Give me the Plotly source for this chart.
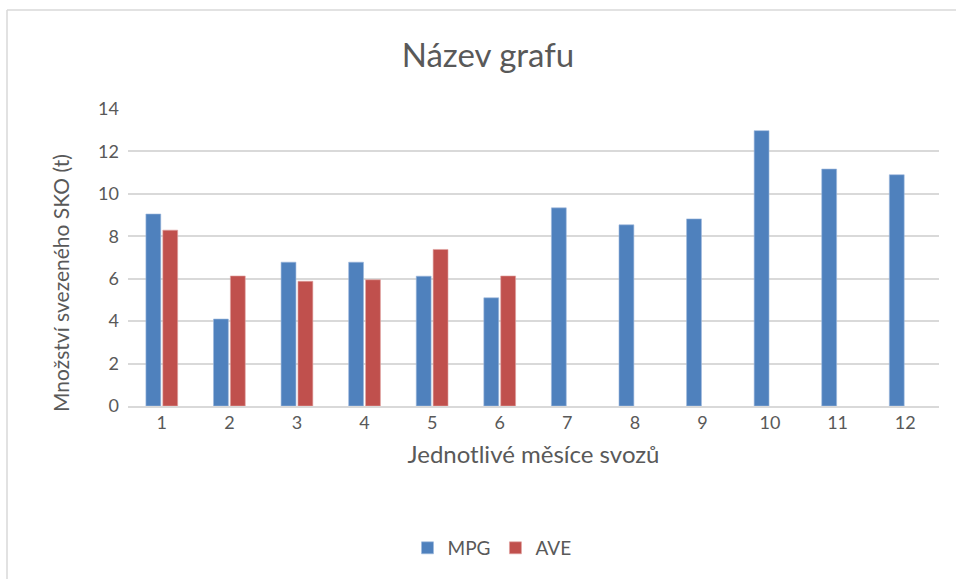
import plotly.graph_objects as go

months = ["1", "2", "3", "4", "5", "6", "7", "8", "9", "10", "11", "12"]
mpg = [9.05, 4.1, 6.78, 6.78, 6.12, 5.1, 9.34, 8.54, 8.82, 12.98, 11.17, 10.9]
ave = [8.29, 6.13, 5.88, 5.95, 7.38, 6.13, None, None, None, None, None, None]
y_ticks = [0, 2, 4, 6, 8, 10, 12, 14]

W, H = 956, 579
L, R, T, B = 128, 17, 109, 173
pw, ph = W - L - R, H - T - B

font = "Lato, 'Open Sans', sans-serif"
gray = "#595959"

fig = go.Figure()
fig.add_trace(go.Bar(x=months, y=mpg, name="MPG", marker=dict(color="#4F81BD", line=dict(color="#9DB8DD", width=0.6))))
fig.add_trace(go.Bar(x=months, y=ave, name="AVE", marker=dict(color="#C0504D", line=dict(color="#E0A3A1", width=0.6))))

def px(x):
    return (x - L) / pw

def py(y):
    return (H - B - y) / ph

# chart frame (left and top edges visible in the reference)
fig.add_shape(type="line", xref="paper", yref="paper", x0=px(7), x1=px(7), y0=py(585), y1=py(10),
              line=dict(color="#D9D9D9", width=1.5))
fig.add_shape(type="line", xref="paper", yref="paper", x0=px(7), x1=px(960), y0=py(10), y1=py(10),
              line=dict(color="#D9D9D9", width=1.5))

fig.add_annotation(text="Množství svezeného SKO (t)", xref="paper", yref="paper",
                   x=px(60), y=py(283), textangle=-90, showarrow=False,
                   xanchor="center", yanchor="middle", font=dict(size=21, color=gray))

fig.update_layout(
    width=W, height=H,
    margin=dict(l=L, r=R, t=T, b=B, autoexpand=False),
    paper_bgcolor="white", plot_bgcolor="white",
    barmode="group", bargap=0.5, bargroupgap=0.12,
    font=dict(family=font, color=gray, size=17),
    title=dict(text="Název grafu", x=488 / W, xref="container", xanchor="center",
               y=1 - 55 / H, yref="container", yanchor="middle",
               font=dict(size=33, color=gray, family=font)),
    legend=dict(orientation="h", xref="container", x=492 / W, xanchor="center",
                yref="container", y=1 - 548 / H, yanchor="middle",
                font=dict(size=19, color=gray), itemwidth=30, traceorder="normal"),
    xaxis=dict(showgrid=False, showline=True, linecolor="#D9D9D9", linewidth=1.5,
               ticks="", tickfont=dict(size=18, color=gray),
               title=dict(text="Jednotlivé měsíce svozů", font=dict(size=24, color=gray), standoff=14)),
    yaxis=dict(range=[0, 14], tickvals=y_ticks, showgrid=True, gridcolor="#D9D9D9", gridwidth=1.5,
               zeroline=False, ticks="", tickfont=dict(size=18, color=gray), ticklabelstandoff=8),
)

fig.write_html("out.html", config={"displayModeBar": False},
               post_script="document.body.style.margin='0';document.body.style.overflow='hidden';")
